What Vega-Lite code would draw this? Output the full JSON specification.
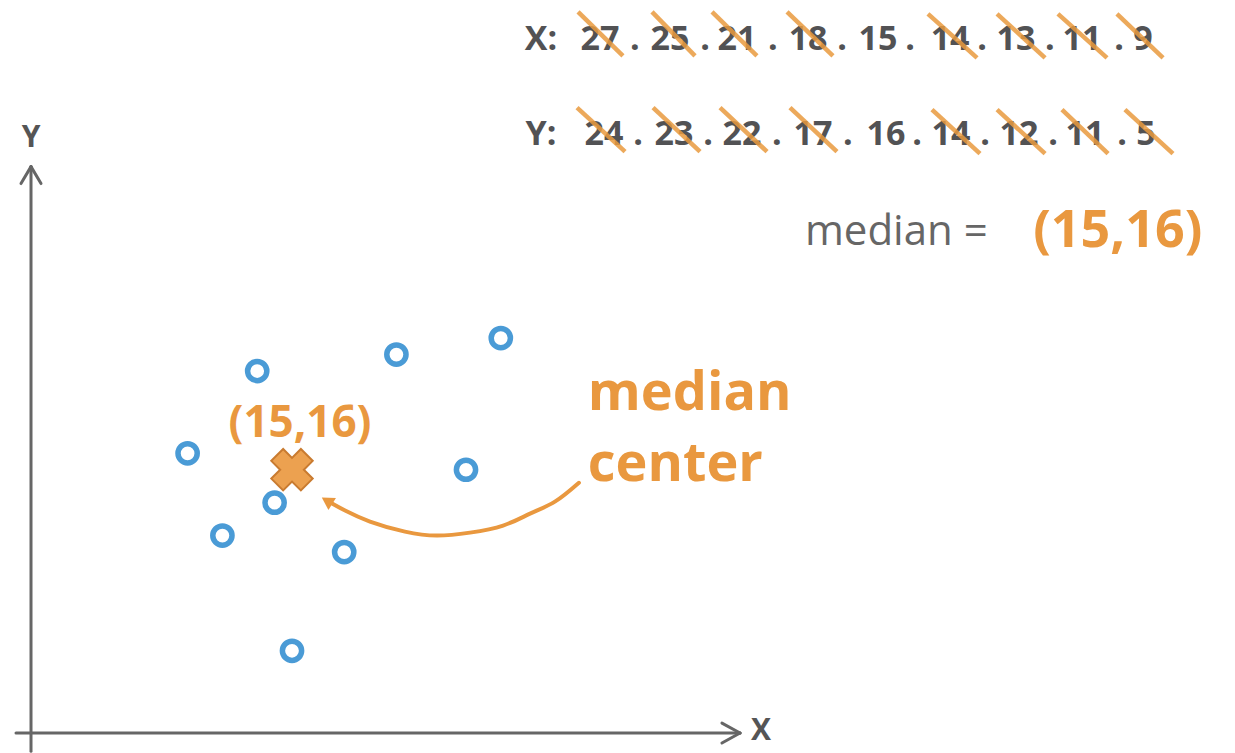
{
  "$schema": "https://vega.github.io/schema/vega-lite/v6.json",
  "width": 1235,
  "height": 753,
  "autosize": {"type": "fit", "contains": "padding"},
  "padding": 0,
  "background": "white",
  "config": {"view": {"stroke": null}},
  "datasets": {
    "points": [
      {"x": 13, "y": 22}, {"x": 21, "y": 23}, {"x": 27, "y": 24},
      {"x": 9, "y": 17}, {"x": 25, "y": 16}, {"x": 14, "y": 14},
      {"x": 11, "y": 12}, {"x": 18, "y": 11}, {"x": 15, "y": 5}
    ],
    "median": [{"x": 15, "y": 16}],
    "axes": [
      {"x": 0, "y": -1.1, "x2": 0, "y2": 34.42},
      {"x": -0.575, "y": 33.39, "x2": 0, "y2": 34.42},
      {"x": 0.575, "y": 33.39, "x2": 0, "y2": 34.42},
      {"x": -0.862, "y": 0, "x2": 40.75, "y2": 0},
      {"x": 39.71, "y": 0.606, "x2": 40.75, "y2": 0},
      {"x": 39.71, "y": -0.606, "x2": 40.75, "y2": 0}
    ],
    "axisLabels": [
      {"x": 0, "y": 36.18, "t": "Y"},
      {"x": 41.95, "y": 0.12, "t": "X"}
    ],
    "tokens": [
      {"x": 29.31, "y": 42.1, "t": "X:"},
      {"x": 32.70, "y": 42.1, "t": "27"},
      {"x": 34.71, "y": 42.1, "t": "."},
      {"x": 36.72, "y": 42.1, "t": "25"},
      {"x": 38.74, "y": 42.1, "t": "."},
      {"x": 40.57, "y": 42.1, "t": "21"},
      {"x": 42.64, "y": 42.1, "t": "."},
      {"x": 44.66, "y": 42.1, "t": "18"},
      {"x": 46.61, "y": 42.1, "t": "."},
      {"x": 48.68, "y": 42.1, "t": "15"},
      {"x": 50.52, "y": 42.1, "t": "."},
      {"x": 52.82, "y": 42.1, "t": "14"},
      {"x": 54.66, "y": 42.1, "t": "."},
      {"x": 56.61, "y": 42.1, "t": "13"},
      {"x": 58.56, "y": 42.1, "t": "."},
      {"x": 60.40, "y": 42.1, "t": "11"},
      {"x": 62.53, "y": 42.1, "t": "."},
      {"x": 63.91, "y": 42.1, "t": "9"},
      {"x": 29.31, "y": 36.36, "t": "Y:"},
      {"x": 32.93, "y": 36.36, "t": "24"},
      {"x": 34.89, "y": 36.36, "t": "."},
      {"x": 36.95, "y": 36.36, "t": "23"},
      {"x": 38.91, "y": 36.36, "t": "."},
      {"x": 40.86, "y": 36.36, "t": "22"},
      {"x": 42.87, "y": 36.36, "t": "."},
      {"x": 44.94, "y": 36.36, "t": "17"},
      {"x": 46.95, "y": 36.36, "t": "."},
      {"x": 49.14, "y": 36.36, "t": "16"},
      {"x": 50.92, "y": 36.36, "t": "."},
      {"x": 52.87, "y": 36.36, "t": "14"},
      {"x": 54.83, "y": 36.36, "t": "."},
      {"x": 56.78, "y": 36.36, "t": "12"},
      {"x": 58.74, "y": 36.36, "t": "."},
      {"x": 60.57, "y": 36.36, "t": "11"},
      {"x": 62.70, "y": 36.36, "t": "."},
      {"x": 64.08, "y": 36.36, "t": "5"}
    ],
    "strikes": [
      {"x": 31.44, "y": 43.82, "x2": 34.02, "y2": 41.15},
      {"x": 35.69, "y": 43.82, "x2": 38.16, "y2": 41.15},
      {"x": 39.14, "y": 43.82, "x2": 41.72, "y2": 41.15},
      {"x": 43.45, "y": 43.82, "x2": 46.09, "y2": 41.15},
      {"x": 51.55, "y": 43.7, "x2": 54.37, "y2": 41.03},
      {"x": 55.52, "y": 43.7, "x2": 58.28, "y2": 41.03},
      {"x": 59.02, "y": 43.7, "x2": 61.84, "y2": 41.03},
      {"x": 62.41, "y": 43.7, "x2": 65.06, "y2": 41.03},
      {"x": 31.38, "y": 38.0, "x2": 34.14, "y2": 35.33},
      {"x": 35.75, "y": 38.0, "x2": 38.45, "y2": 35.33},
      {"x": 39.60, "y": 38.0, "x2": 42.30, "y2": 35.33},
      {"x": 43.62, "y": 38.0, "x2": 46.32, "y2": 35.33},
      {"x": 51.78, "y": 37.88, "x2": 54.54, "y2": 35.21},
      {"x": 55.52, "y": 37.88, "x2": 58.28, "y2": 35.21},
      {"x": 59.25, "y": 37.88, "x2": 61.90, "y2": 35.21},
      {"x": 62.87, "y": 37.88, "x2": 65.63, "y2": 35.21}
    ],
    "medianEq": [{"x": 44.48, "y": 29.64, "t": "median ="}],
    "medianVal": [{"x": 57.6, "y": 29.52, "t": "(15,16)"}],
    "bigLabel": [
      {"x": 32.0, "y": 19.64, "t": "median"},
      {"x": 32.0, "y": 15.33, "t": "center"}
    ],
    "pointLabel": [{"x": 15.46, "y": 18.0, "t": "(15,16)"}],
    "curve": [
      {"i": 0, "x": 31.49, "y": 15.21},
      {"i": 1, "x": 30.11, "y": 14.06},
      {"i": 2, "x": 28.68, "y": 13.33},
      {"i": 3, "x": 27.13, "y": 12.61},
      {"i": 4, "x": 25.23, "y": 12.18},
      {"i": 5, "x": 23.33, "y": 12.00},
      {"i": 6, "x": 21.49, "y": 12.24},
      {"i": 7, "x": 19.48, "y": 12.85},
      {"i": 8, "x": 18.05, "y": 13.52},
      {"i": 9, "x": 17.30, "y": 13.95}
    ],
    "arrowHead": [{"x": 17.01, "y": 14.12}]
  },
  "encoding": {
    "x": {"field": "x", "type": "quantitative", "scale": {"domain": [-1.782, 69.195], "zero": false, "nice": false}, "axis": null},
    "y": {"field": "y", "type": "quantitative", "scale": {"domain": [-1.091, 44.545], "zero": false, "nice": false}, "axis": null}
  },
  "layer": [
    {
      "data": {"name": "axes"},
      "mark": {"type": "rule", "color": "#666666", "strokeWidth": 3, "strokeCap": "round"},
      "encoding": {"x2": {"field": "x2"}, "y2": {"field": "y2"}}
    },
    {
      "data": {"name": "axisLabels"},
      "mark": {"type": "text", "font": "Open Sans", "fontWeight": "bold", "fontSize": 30, "color": "#555555", "align": "center", "baseline": "middle"},
      "encoding": {"text": {"field": "t"}}
    },
    {
      "data": {"name": "tokens"},
      "mark": {"type": "text", "font": "Open Sans", "fontWeight": "bold", "fontSize": 34, "color": "#525254", "align": "center", "baseline": "middle"},
      "encoding": {"text": {"field": "t"}}
    },
    {
      "data": {"name": "strikes"},
      "mark": {"type": "rule", "color": "#E99A3E", "strokeWidth": 4.5, "opacity": 0.85},
      "encoding": {"x2": {"field": "x2"}, "y2": {"field": "y2"}}
    },
    {
      "data": {"name": "medianEq"},
      "mark": {"type": "text", "font": "Open Sans", "fontSize": 42, "color": "#666666", "align": "left", "baseline": "alphabetic"},
      "encoding": {"text": {"field": "t"}}
    },
    {
      "data": {"name": "medianVal"},
      "mark": {"type": "text", "font": "Open Sans", "fontWeight": "bold", "fontSize": 52, "color": "#E9983F", "align": "left", "baseline": "alphabetic"},
      "encoding": {"text": {"field": "t"}}
    },
    {
      "data": {"name": "bigLabel"},
      "mark": {"type": "text", "font": "Open Sans", "fontWeight": "bold", "fontSize": 54, "color": "#E9983F", "align": "left", "baseline": "alphabetic"},
      "encoding": {"text": {"field": "t"}}
    },
    {
      "data": {"name": "pointLabel"},
      "mark": {"type": "text", "font": "Open Sans", "fontWeight": "bold", "fontSize": 44, "color": "#E9983F", "align": "center", "baseline": "alphabetic"},
      "encoding": {"text": {"field": "t"}}
    },
    {
      "data": {"name": "curve"},
      "mark": {"type": "line", "color": "#E9983F", "strokeWidth": 4, "interpolate": "natural", "strokeCap": "round"},
      "encoding": {"order": {"field": "i", "type": "quantitative"}}
    },
    {
      "data": {"name": "arrowHead"},
      "mark": {"type": "point", "shape": "triangle-up", "filled": true, "color": "#E9983F", "opacity": 1, "size": 200, "angle": 302},
      "encoding": {}
    },
    {
      "data": {"name": "points"},
      "mark": {"type": "point", "shape": "circle", "filled": false, "color": "#4A9BD6", "strokeWidth": 5.5, "size": 370, "opacity": 1},
      "encoding": {}
    },
    {
      "data": {"name": "median"},
      "mark": {"type": "point", "shape": "cross", "filled": true, "fill": "#ECA150", "stroke": "#C97B30", "strokeWidth": 2, "size": 1750, "angle": 45, "opacity": 1},
      "encoding": {}
    }
  ]
}
